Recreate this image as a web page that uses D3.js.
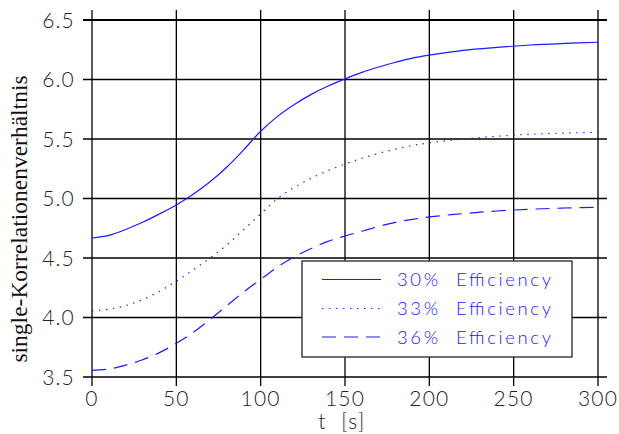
<!DOCTYPE html>
<html>
<head>
<meta charset="utf-8">
<script src="https://cdn.jsdelivr.net/npm/d3@7"></script>
<style>
  html, body { margin: 0; padding: 0; background: #fff; }
  svg { display: block; }
</style>
</head>
<body>
<svg id="chart" width="619" height="434"></svg>
<script>
// Time axis samples (seconds)
const times = [0, 10, 20, 30, 40, 50, 60, 70, 80, 90, 100, 110, 120, 130, 140, 150,
               160, 170, 180, 190, 200, 220, 240, 260, 280, 300];

// Correlation ratio for each efficiency level
const eff30 = [4.668, 4.69, 4.74, 4.80, 4.87, 4.945, 5.035, 5.14, 5.265, 5.41, 5.565, 5.69,
               5.79, 5.875, 5.945, 6.005, 6.06, 6.105, 6.145, 6.18, 6.205, 6.245, 6.27, 6.29, 6.303, 6.313];
const eff33 = [4.055, 4.07, 4.10, 4.15, 4.22, 4.305, 4.40, 4.50, 4.61, 4.74, 4.87, 5.00,
               5.095, 5.17, 5.235, 5.29, 5.338, 5.38, 5.415, 5.445, 5.468, 5.50, 5.523, 5.54, 5.55, 5.556];
const eff36 = [3.555, 3.567, 3.60, 3.645, 3.705, 3.783, 3.875, 3.985, 4.10, 4.215, 4.32, 4.425,
               4.51, 4.58, 4.64, 4.685, 4.725, 4.765, 4.80, 4.825, 4.845, 4.873, 4.895, 4.91, 4.92, 4.927];

const seriesNames = ["30% Efficiency", "33% Efficiency", "36% Efficiency"];
const xTicks = [0, 50, 100, 150, 200, 250, 300];
const yTicks = [3.5, 4.0, 4.5, 5.0, 5.5, 6.0, 6.5];
const yTitle = "single-Korrelationenverhältnis";
const xTitle = "t  [s]";

const svg = d3.select("#chart");
const x = d3.scaleLinear().domain([0, 300]).range([92, 598]);
const y = d3.scaleLinear().domain([3.5, 6.5]).range([377, 20]);

const tickFont = "Lato, 'DejaVu Sans', sans-serif";

// Grid lines (extend a little beyond the plot to act as ticks)
svg.append("g").selectAll("line").data(yTicks).join("line")
  .attr("x1", 83).attr("x2", 607)
  .attr("y1", d => y(d)).attr("y2", d => y(d))
  .attr("stroke", "#000")
  .attr("stroke-width", d => d === 6.5 ? 2.2 : 1.3);

svg.append("g").selectAll("line").data(xTicks).join("line")
  .attr("y1", 10).attr("y2", 386)
  .attr("x1", d => x(d)).attr("x2", d => x(d))
  .attr("stroke", "#000")
  .attr("stroke-width", 1.3);

// Tick labels
svg.append("g").selectAll("text").data(yTicks).join("text")
  .attr("x", 75).attr("y", d => y(d) + 7.8)
  .attr("text-anchor", "end")
  .attr("font-family", tickFont).attr("font-weight", 300)
  .attr("font-size", 21).attr("letter-spacing", 1.2)
  .attr("fill", "#222")
  .text(d => d3.format(".1f")(d));

svg.append("g").selectAll("text").data(xTicks).join("text")
  .attr("x", d => x(d)).attr("y", 406)
  .attr("text-anchor", "middle")
  .attr("font-family", tickFont).attr("font-weight", 300)
  .attr("font-size", 21).attr("letter-spacing", 1.2)
  .attr("fill", "#222")
  .text(d => d);

// Axis titles
svg.append("text")
  .attr("x", 342).attr("y", 429)
  .attr("text-anchor", "middle")
  .attr("font-family", tickFont).attr("font-weight", 300)
  .attr("font-size", 21).attr("fill", "#222")
  .style("white-space", "pre")
  .attr("letter-spacing", 1.5)
  .text(xTitle);

svg.append("text")
  .attr("transform", "translate(27,219) rotate(-90)")
  .attr("text-anchor", "middle")
  .attr("font-family", "'Liberation Serif', 'Times New Roman', serif")
  .attr("font-size", 23.5).attr("fill", "#111")
  .text(yTitle);

// Curves
const dashes = [null, "1.4,5.6", "14,8"];
const allSeries = [eff30, eff33, eff36];
const line = d3.line()
  .x((d, i) => x(times[i]))
  .y(d => y(d))
  .curve(d3.curveCatmullRom.alpha(0.5));

svg.append("g").selectAll("path").data(allSeries).join("path")
  .attr("d", d => line(d))
  .attr("fill", "none")
  .attr("stroke", "#1a1aff")
  .attr("stroke-width", 1.2)
  .attr("stroke-dasharray", (d, i) => dashes[i]);

// Legend
const lg = svg.append("g");
lg.append("rect")
  .attr("x", 302).attr("y", 261).attr("width", 270).attr("height", 96)
  .attr("fill", "#fff").attr("stroke", "#333").attr("stroke-width", 1.4);

const rowY = [279.5, 308.5, 337];
seriesNames.forEach((name, i) => {
  lg.append("line")
    .attr("x1", 322).attr("x2", 381)
    .attr("y1", rowY[i]).attr("y2", rowY[i])
    .attr("stroke", "#1a1aff").attr("stroke-width", 1.2)
    .attr("stroke-dasharray", dashes[i]);
  lg.append("text")
    .attr("x", 397).attr("y", rowY[i] + 6.8)
    .attr("font-family", tickFont).attr("font-weight", 300)
    .attr("font-size", 18.5).attr("fill", "#1a1aff")
    .attr("textLength", 154).attr("lengthAdjust", "spacing")
    .style("white-space", "pre")
    .text(name.replace(" ", "  "));
});
</script>
</body>
</html>
